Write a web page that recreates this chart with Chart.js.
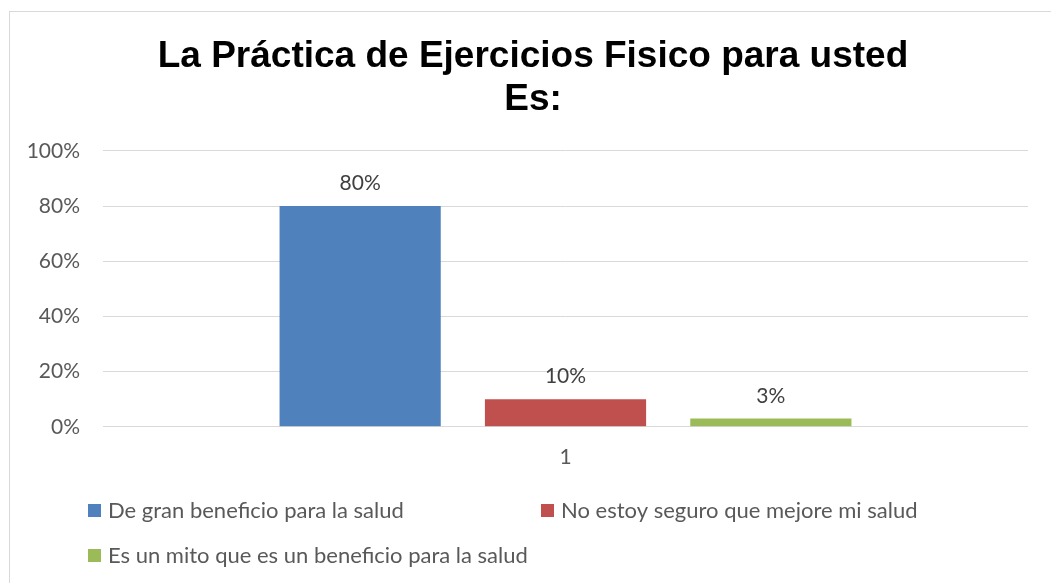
<!DOCTYPE html>
<html>
<head>
<meta charset="utf-8">
<script src="https://cdn.jsdelivr.net/npm/chart.js@4/dist/chart.umd.min.js"></script>
<style>
  html, body { margin: 0; padding: 0; background: #fff; }
  #wrap { width: 1051px; height: 583px; position: relative; }
</style>
</head>
<body>
<div id="wrap"><canvas id="chart"></canvas></div>
<script>
const categories = ['1'];
const seriesLabels = [
    'De gran beneficio para la salud',
    'No estoy seguro que mejore mi salud',
    'Es un mito que es un beneficio para la salud'
];
const seriesValues = [80, 10, 3];
const seriesColors = ['#4f81bd', '#c0504d', '#9bbb59'];
const yTicks = [0, 20, 40, 60, 80, 100];

const textColor = '#595959';
const bodyFont = 'Lato, "Open Sans", sans-serif';

// light frame round the chart, like the Office chart border
const framePlugin = {
    id: 'frame',
    beforeDraw(chart) {
        const ctx = chart.ctx;
        ctx.save();
        ctx.fillStyle = '#fff';
        ctx.fillRect(0, 0, chart.width, chart.height);
        ctx.strokeStyle = '#d9d9d9';
        ctx.lineWidth = 1;
        ctx.strokeRect(9.5, 11.5, chart.width + 20, chart.height + 20);
        ctx.restore();
    },
    // centre the title a little right of the canvas middle, as in the original
    afterLayout(chart) {
        if (chart.titleBlock) chart.titleBlock.left = 38;
    }
};

// value labels above each bar
const valueLabels = {
    id: 'valueLabels',
    afterDatasetsDraw(chart) {
        const ctx = chart.ctx;
        ctx.save();
        ctx.font = '21px ' + bodyFont;
        ctx.fillStyle = '#404040';
        ctx.textAlign = 'center';
        ctx.textBaseline = 'alphabetic';
        chart.data.datasets.forEach((ds, i) => {
            chart.getDatasetMeta(i).data.forEach((bar, j) => {
                ctx.fillText(ds.data[j] + '%', bar.x, bar.y - 16);
            });
        });
        ctx.restore();
    }
};

// legend laid out in two columns below the axis
const columnLegend = {
    id: 'columnLegend',
    afterDraw(chart) {
        const ctx = chart.ctx;
        const cols = [88, 541];
        const rows = [511, 556];
        ctx.save();
        ctx.font = '22px ' + bodyFont;
        ctx.textBaseline = 'middle';
        ctx.textAlign = 'left';
        chart.data.datasets.forEach((ds, i) => {
            const x = cols[i % 2];
            const y = rows[Math.floor(i / 2)];
            ctx.fillStyle = ds.backgroundColor;
            ctx.fillRect(x, y - 7, 13, 13);
            ctx.fillStyle = textColor;
            ctx.fillText(ds.label, x + 20, y);
        });
        ctx.restore();
    }
};

const datasets = seriesLabels.map((label, i) => ({
    label: label,
    data: [seriesValues[i]],
    backgroundColor: seriesColors[i],
    borderWidth: 0,
    categoryPercentage: 0.666,
    barPercentage: 0.785
}));

new Chart(document.getElementById('chart'), {
    type: 'bar',
    data: { labels: categories, datasets: datasets },
    plugins: [framePlugin, valueLabels, columnLegend],
    options: {
        responsive: true,
        maintainAspectRatio: false,
        animation: false,
        layout: {
            padding: { left: 18, right: 23, top: 0, bottom: 95 }
        },
        plugins: {
            legend: { display: false },
            tooltip: { enabled: false },
            title: {
                display: true,
                text: ['La Práctica de Ejercicios Fisico para usted', 'Es:'],
                color: '#000',
                font: { family: '"Liberation Sans", Arial, sans-serif', size: 37, weight: 'bold', lineHeight: 1.16 },
                padding: { top: 35, bottom: 30 }
            }
        },
        scales: {
            x: {
                grid: { display: false, drawTicks: false },
                border: { display: false },
                ticks: {
                    color: textColor,
                    font: { family: bodyFont, size: 21 },
                    padding: 18
                }
            },
            y: {
                min: 0,
                max: 100,
                afterBuildTicks(scale) {
                    scale.ticks = yTicks.map(v => ({ value: v }));
                },
                afterFit(scale) {
                    scale.width = 85;
                },
                grid: { color: '#d9d9d9', lineWidth: 1, drawTicks: false },
                border: { display: false },
                ticks: {
                    color: textColor,
                    font: { family: bodyFont, size: 21 },
                    padding: 23,
                    callback: v => v + '%'
                }
            }
        }
    }
});
</script>
</body>
</html>
